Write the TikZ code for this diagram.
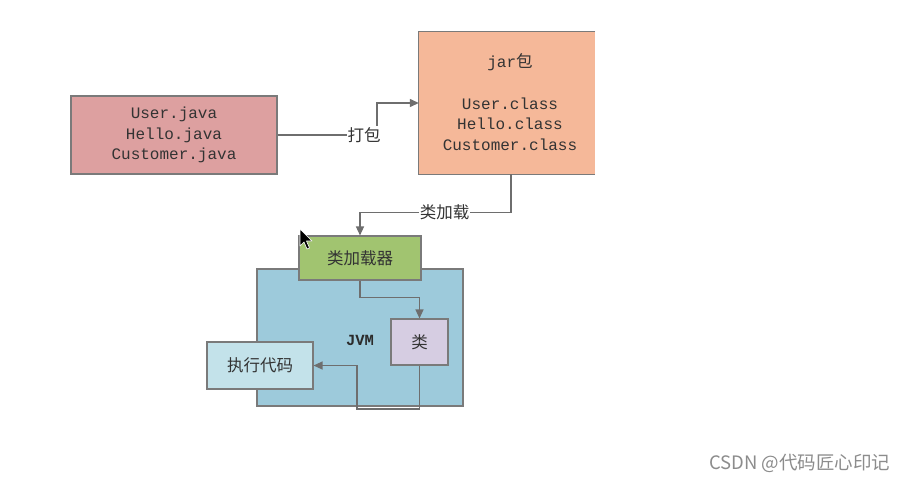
\documentclass[tikz,border=0pt]{standalone}
\usepackage{fontspec}
\setmonofont{Liberation Mono}
\newfontfamily\cjk{Noto Sans CJK SC}
\usetikzlibrary{arrows.meta}
\definecolor{srcfill}{HTML}{DDA0A0}
\definecolor{jarfill}{HTML}{F5B899}
\definecolor{ldrfill}{HTML}{A1C470}
\definecolor{jvmfill}{HTML}{9DCADB}
\definecolor{clsfill}{HTML}{D6CDE2}
\definecolor{exefill}{HTML}{C3E2EA}
\definecolor{edge}{HTML}{6E6E6E}
\definecolor{border}{HTML}{7A7A7A}
\definecolor{txt}{HTML}{333333}
\tikzset{
  box/.style={draw=border, line width=1.1pt, inner sep=0pt, text=txt},
  monotxt/.style={font=\fontsize{16}{20.5}\selectfont\ttfamily, align=center, text=txt, inner sep=0pt},
  cjktxt/.style={font=\fontsize{16.5}{20}\selectfont\cjk, text=txt},
  arr/.style={draw=edge, line width=1.3pt, -{Triangle[length=9pt,width=8pt]}},
  elabel/.style={fill=white, inner sep=1pt, font=\fontsize{16.5}{20}\selectfont\cjk, text=txt}
}
\begin{document}
\begin{tikzpicture}[x=1pt,y=-1pt]
\useasboundingbox[fill=white] (0,0) rectangle (910,482);
% source files
\node[box, fill=srcfill, minimum width=206pt, minimum height=78pt] (src) at (174,135) {};
\node[monotxt] (srctxt) at (174,135) {User.java\\Hello.java\\Customer.java};
% jar
\node[fill=jarfill, inner sep=0pt, minimum width=176pt, minimum height=142pt] (jar) at (507,103) {};
\draw[border, line width=1.1pt] (jar.north east) -- (jar.north west) -- (jar.south west) -- (jar.south east);
\node[monotxt] (jartitle) at (510,62) {jar{\cjk\fontsize{16.5}{20}\selectfont 包}};
\node[monotxt] (jartxt) at (510,124) {User.class\\Hello.class\\Customer.class};
% JVM
\node[box, fill=jvmfill, minimum width=206pt, minimum height=137pt] (jvm) at (360,337.5) {};
\node[font=\fontsize{15.5}{18}\selectfont\ttfamily\bfseries, text=txt!85!black] (jvmlabel) at (360,340) {JVM};
% loader
\node[box, fill=ldrfill, minimum width=122pt, minimum height=44pt, cjktxt] (loader) at (360,258) {类加载器};
% class
\node[box, fill=clsfill, minimum width=57pt, minimum height=46pt, cjktxt] (cls) at (419.5,342) {类};
% exec
\node[box, fill=exefill, minimum width=106pt, minimum height=47pt, cjktxt] (exec) at (260,365.5) {执行代码};
% edges
\coordinate (pk) at (377,135);
\draw[arr] (src.east) -- (pk) |- (jar.west);
\node[elabel] (pklabel) at (364,135) {打包};
\draw[arr] ([xshift=4pt]jar.south) -- ++(0,38) -| (loader.north) node[elabel, pos=0.22] (ldlabel) {类加载};
\draw[arr] (loader.south) -- ++(0,17) -| (cls.north);
\coordinate (bend) at (357,409);
\draw[arr] (cls.south) |- (bend) |- (exec.east);
% mouse cursor
\draw[fill=black, draw=white, line width=0.6pt, line join=round]
  (300,229) -- (300,246) -- (304,242) -- (307,249) -- (309.5,248) -- (306.5,241) -- (312,241) -- cycle;
% watermark
\node[font=\fontsize{18.5}{22}\selectfont\cjk, text=black!45, anchor=east] (wm) at (894,463) {CSDN @代码匠心印记};
\end{tikzpicture}
\end{document}
